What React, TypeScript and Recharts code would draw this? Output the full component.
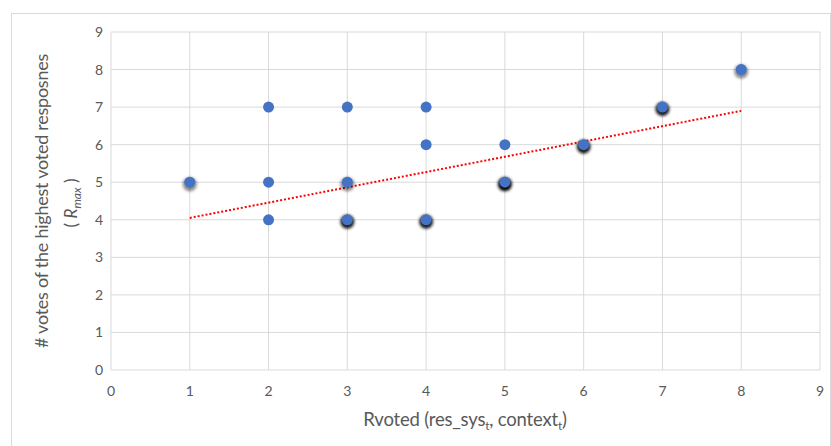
import React from 'react';
import { ScatterChart, Scatter, XAxis, YAxis, CartesianGrid, ReferenceLine } from 'recharts';

const xValues = [1, 2, 2, 2, 3, 3, 3, 4, 4, 4, 5, 5, 6, 7, 8];
const yValues = [5, 7, 5, 4, 7, 5, 4, 7, 6, 4, 6, 5, 6, 7, 8];
const counts = [2, 1, 1, 1, 1, 2, 3, 1, 1, 3, 1, 4, 3, 3, 2];
const xTicks = [0, 1, 2, 3, 4, 5, 6, 7, 8, 9];
const yTicks = [0, 1, 2, 3, 4, 5, 6, 7, 8, 9];
const trendX = [1, 8];
const trendY = [4.05, 6.9];

const points = xValues.map((x, i) => ({ x, y: yValues[i], n: counts[i] }));

const FONT = 'Lato, "Open Sans", sans-serif';
const TXT = '#595959';

const Marker = (props: any) => {
  const { cx, cy, payload } = props;
  const n = payload?.n ?? 1;
  const op = Math.min(1, (n - 1) * 0.45);
  return (
    <g>
      {op > 0 && (
        <circle cx={cx} cy={cy + 2} r={7} fill="#000" opacity={op} filter="url(#shadowBlur)" />
      )}
      <circle cx={cx} cy={cy} r={5.5} fill="#4472C4" />
    </g>
  );
};

const YLabel = () => (
  <g fill={TXT} fontFamily={FONT}>
    <text x={0} y={0} transform="translate(48,201) rotate(-90)" textAnchor="middle" fontSize={18} letterSpacing={-0.25}>
      # votes of the highest voted resposnes
    </text>
    <text x={0} y={0} transform="translate(77,203) rotate(-90)" textAnchor="middle" fontSize={17}>
      {'( '}
      <tspan fontStyle="italic">R</tspan>
      <tspan fontStyle="italic" fontSize={12} dy={4}>max</tspan>
      <tspan dy={-4}>{' )'}</tspan>
    </text>
  </g>
);

const XLabel = () => (
  <text x={465} y={426} textAnchor="middle" fill={TXT} fontFamily={FONT} fontSize={18.5} letterSpacing={-0.2}>
    {'Rvoted (res_sys'}
    <tspan fontSize={12} dy={4}>t</tspan>
    <tspan dy={-4}>{', context'}</tspan>
    <tspan fontSize={12} dy={4}>t</tspan>
    <tspan dy={-4}>{')'}</tspan>
  </text>
);

export default function App() {
  return (
    <div style={{ position: 'absolute', left: 0, top: 0, width: 831, height: 446, background: '#fff' }}>
      <div
        style={{
          position: 'absolute',
          left: 11,
          top: 13,
          width: 818,
          height: 440,
          borderLeft: '1px solid #d9d9d9',
          borderTop: '1px solid #d9d9d9',
          borderRight: '1px solid #d9d9d9',
        }}
      />
      <div style={{ position: 'absolute', left: 0, top: 0 }}>
        <ScatterChart width={831} height={446} margin={{ top: 32, right: 11, left: 0, bottom: 46 }}>
          <defs>
            <filter id="shadowBlur" x="-50%" y="-50%" width="200%" height="200%">
              <feGaussianBlur stdDeviation={1.8} />
            </filter>
          </defs>
          <CartesianGrid stroke="#d9d9d9" strokeWidth={1} />
          <XAxis
            type="number"
            dataKey="x"
            domain={[0, 9]}
            ticks={xTicks}
            interval={0}
            height={30}
            axisLine={false}
            tickLine={false}
            tickMargin={10}
            tick={{ fill: TXT, fontSize: 14, fontFamily: FONT }}
            label={{ content: () => <XLabel /> }}
          />
          <YAxis
            type="number"
            dataKey="y"
            domain={[0, 9]}
            ticks={yTicks}
            interval={0}
            width={111}
            axisLine={false}
            tickLine={false}
            tickMargin={2}
            tick={{ fill: TXT, fontSize: 14, fontFamily: FONT }}
            label={{ content: () => <YLabel /> }}
          />
          <Scatter data={points} shape={<Marker />} isAnimationActive={false} />
          <ReferenceLine
            segment={[
              { x: trendX[0], y: trendY[0] },
              { x: trendX[1], y: trendY[1] },
            ]}
            stroke="#ff0000"
            strokeWidth={2}
            strokeDasharray="2 2"
            ifOverflow="visible"
          />
        </ScatterChart>
      </div>
    </div>
  );
}
